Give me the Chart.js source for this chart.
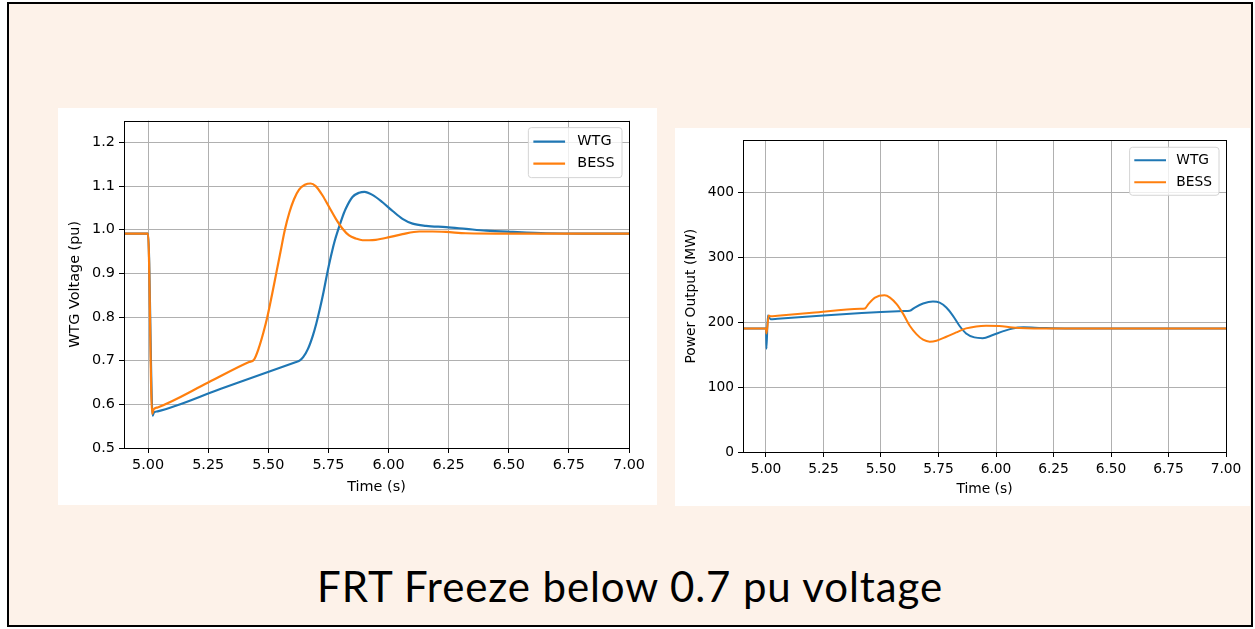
<!DOCTYPE html>
<html>
<head>
<meta charset="utf-8">
<title>FRT Freeze below 0.7 pu voltage</title>
<script src="https://cdn.jsdelivr.net/npm/chart.js@4.4.1/dist/chart.umd.min.js"></script>
<style>
  html, body { margin: 0; padding: 0; background: #fff; }
  body { width: 1255px; height: 629px; position: relative; overflow: hidden; }
  #slide {
    position: absolute; left: 7px; top: 2px; width: 1246px; height: 625px;
    box-sizing: border-box; border: 2px solid #000; background: #fdf2e9;
  }
  .panel { position: absolute; background: #fff; }
  .panel canvas { display: block; }
  #voltage-panel { left: 58px; top: 108px; width: 599px; height: 397px; }
  #power-panel { left: 675px; top: 128px; width: 575px; height: 378px; }
  #caption {
    position: absolute; left: 7px; width: 1246px; top: 565px;
    text-align: center; font: 42px/42px Lato, sans-serif; letter-spacing: 0.9px; color: #000;
  }
</style>
</head>
<body>
<div id="slide"></div>
<div class="panel" id="voltage-panel"><canvas id="voltage-chart" width="599" height="397"></canvas></div>
<div class="panel" id="power-panel"><canvas id="power-chart" width="575" height="378"></canvas></div>
<div id="caption">FRT Freeze below 0.7 pu voltage</div>
<script>
const timeTicks = [5.0, 5.25, 5.5, 5.75, 6.0, 6.25, 6.5, 6.75, 7.0];
const voltageTicks = [0.5, 0.6, 0.7, 0.8, 0.9, 1.0, 1.1, 1.2];
const powerTicks = [0, 100, 200, 300, 400];

// terminal voltage (pu)
const wtgVoltageTime = [4.9, 5.0, 5.019, 5.024, 5.04, 5.3, 5.61, 5.63, 5.645, 5.665, 5.685, 5.7,
  5.715, 5.73, 5.745, 5.76, 5.775, 5.79, 5.805, 5.822, 5.85, 5.878, 5.9, 5.933, 5.975, 6.017, 6.058,
  6.1, 6.156, 6.239, 6.322, 6.406, 6.517, 6.656, 6.8, 7.0];
const wtgVoltage = [0.991, 0.991, 0.574, 0.581, 0.584, 0.635, 0.696, 0.700, 0.708, 0.727, 0.757, 0.786,
  0.820, 0.858, 0.900, 0.938, 0.972, 0.999, 1.024, 1.048, 1.075, 1.085, 1.087, 1.080, 1.063, 1.043, 1.025,
  1.014, 1.009, 1.006, 1.002, 0.998, 0.995, 0.992, 0.991, 0.991];

const bessVoltageTime = [4.9, 5.0, 5.017, 5.024, 5.04, 5.25, 5.42, 5.44, 5.46, 5.48, 5.496, 5.515,
  5.533, 5.551, 5.569, 5.588, 5.607, 5.628, 5.652, 5.676, 5.697, 5.725, 5.753, 5.781, 5.808, 5.836,
  5.864, 5.892, 5.919, 5.947, 6.003, 6.058, 6.128, 6.183, 6.239, 6.322, 6.5, 7.0];
const bessVoltage = [0.991, 0.991, 0.578, 0.589, 0.593, 0.650, 0.697, 0.702, 0.728, 0.765, 0.800, 0.850,
  0.900, 0.950, 1.000, 1.040, 1.070, 1.092, 1.103, 1.106, 1.100, 1.079, 1.052, 1.025, 1.003, 0.987,
  0.980, 0.976, 0.976, 0.977, 0.983, 0.990, 0.996, 0.996, 0.995, 0.992, 0.991, 0.991];

// active power output (MW)
const wtgPowerTime = [4.9, 5.0, 5.002, 5.008, 5.02, 5.05, 5.25, 5.4, 5.5, 5.6, 5.625, 5.647, 5.683,
  5.726, 5.755, 5.784, 5.813, 5.841, 5.87, 5.906, 5.942, 5.986, 6.029, 6.072, 6.12, 6.2, 6.3, 7.0];
const wtgPower = [190, 190, 159, 210, 204.5, 205.3, 210.3, 213.6, 215.6, 217.0, 217.6, 222.5, 228.6,
  231.7, 230.1, 222.5, 209.7, 194.4, 182.6, 176.5, 175.3, 180.1, 185.7, 190.3, 192.0, 191.0, 190.2, 190];

const bessPowerTime = [4.9, 5.0, 5.002, 5.012, 5.02, 5.05, 5.2, 5.41, 5.43, 5.445, 5.474, 5.515, 5.539,
  5.568, 5.597, 5.625, 5.654, 5.683, 5.712, 5.741, 5.784, 5.827, 5.87, 5.914, 5.957, 6.014, 6.072,
  6.13, 6.2, 7.0];
const bessPower = [190, 190, 182.5, 210, 209, 209.9, 214.3, 220.4, 221, 227.6, 237.8, 241.3, 237.8,
  227.6, 212.3, 194.4, 181.6, 172.9, 169.9, 171.4, 177.5, 184.2, 190.3, 193.4, 194.4, 193.9, 191.8,
  190.6, 190.1, 190];

const fontFamily = '"DejaVu Sans", sans-serif';
const blue = '#1f77b4';
const orange = '#ff7f0e';

function toPoints(xs, ys) {
  return xs.map((x, i) => ({ x, y: ys[i] }));
}

// black box around the plotting area
const frame = {
  id: 'frame',
  afterDatasetsDraw(chart) {
    const { ctx, chartArea: a } = chart;
    ctx.save();
    ctx.strokeStyle = '#000';
    ctx.lineWidth = 1;
    ctx.strokeRect(Math.round(a.left) + 0.5, Math.round(a.top) + 0.5, Math.round(a.width), Math.round(a.height));
    ctx.restore();
  },
};

// legend drawn inside the upper right corner, with a rounded box
const boxLegend = {
  id: 'boxLegend',
  afterDraw(chart, args, opts) {
    const { ctx, chartArea } = chart;
    const items = chart.data.datasets;
    ctx.save();
    ctx.font = `${opts.size}px ${fontFamily}`;
    const textW = Math.max(...items.map((d) => ctx.measureText(d.label).width));
    const w = opts.textX + textW + opts.padRight;
    const h = opts.firstRow * 2 + opts.rowGap * (items.length - 1);
    const x = chartArea.right - opts.inset - w;
    const y = chartArea.top + opts.inset;
    ctx.beginPath();
    ctx.roundRect(x, y, w, h, 3);
    ctx.fillStyle = 'rgba(255, 255, 255, 0.8)';
    ctx.fill();
    ctx.strokeStyle = '#d4d4d4';
    ctx.lineWidth = 1;
    ctx.stroke();
    items.forEach((d, i) => {
      const ry = y + opts.firstRow + i * opts.rowGap;
      ctx.beginPath();
      ctx.moveTo(x + opts.handleX, ry);
      ctx.lineTo(x + opts.handleX + opts.handleLen, ry);
      ctx.strokeStyle = d.borderColor;
      ctx.lineWidth = d.borderWidth;
      ctx.stroke();
      ctx.fillStyle = '#000';
      ctx.textBaseline = 'middle';
      ctx.fillText(d.label, x + opts.textX, ry);
    });
    ctx.restore();
  },
};

function axisOptions({ min, max, ticks, decimals, title, size, titlePadding, fit, horizontal }) {
  return {
    type: 'linear',
    min,
    max,
    afterBuildTicks: (scale) => {
      scale.ticks = ticks.map((value) => ({ value }));
    },
    afterFit: (scale) => {
      if (horizontal) scale.height = fit;
      else scale.width = fit;
    },
    grid: { color: '#b0b0b0', lineWidth: 1, tickColor: '#000', tickLength: 5, tickWidth: 1 },
    border: { display: false },
    ticks: {
      color: '#000',
      font: { family: fontFamily, size },
      padding: 4,
      maxRotation: 0,
      autoSkip: false,
      callback: (value) => Number(value).toFixed(decimals),
    },
    title: {
      display: true,
      text: title,
      color: '#000',
      font: { family: fontFamily, size },
      padding: titlePadding,
    },
  };
}

function buildChart(canvasId, cfg) {
  return new Chart(document.getElementById(canvasId), {
    type: 'line',
    data: {
      datasets: [
        {
          label: 'WTG',
          data: toPoints(cfg.wtgTime, cfg.wtg),
          borderColor: blue,
          borderWidth: cfg.lineWidth,
          order: 1,
        },
        {
          label: 'BESS',
          data: toPoints(cfg.bessTime, cfg.bess),
          borderColor: orange,
          borderWidth: cfg.lineWidth,
          order: 0,
        },
      ],
    },
    options: {
      responsive: false,
      animation: false,
      layout: { padding: cfg.padding },
      elements: {
        point: { radius: 0 },
        line: { cubicInterpolationMode: 'monotone', borderCapStyle: 'round', borderJoinStyle: 'round' },
      },
      scales: {
        x: axisOptions({
          min: 4.9, max: 7.0, ticks: timeTicks, decimals: 2, title: 'Time (s)',
          size: cfg.fontSize, titlePadding: { top: 0, bottom: cfg.xTitlePad }, fit: cfg.xFit, horizontal: true,
        }),
        y: axisOptions({
          min: cfg.yMin, max: cfg.yMax, ticks: cfg.yTicks, decimals: cfg.yDecimals, title: cfg.yTitle,
          size: cfg.fontSize, titlePadding: { top: cfg.yTitlePad, bottom: 0 }, fit: cfg.yFit, horizontal: false,
        }),
      },
      plugins: {
        legend: { display: false },
        tooltip: { enabled: false },
        boxLegend: cfg.legend,
      },
    },
    plugins: [frame, boxLegend],
  });
}

buildChart('voltage-chart', {
  wtgTime: wtgVoltageTime, wtg: wtgVoltage,
  bessTime: bessVoltageTime, bess: bessVoltage,
  lineWidth: 2.2,
  fontSize: 14.4,
  padding: { top: 12, right: 28, bottom: 0, left: 0 },
  xFit: 57, yFit: 66,
  xTitlePad: 9.4, yTitlePad: 8.4,
  yMin: 0.5, yMax: 1.25, yTicks: voltageTicks, yDecimals: 1,
  yTitle: 'WTG Voltage (pu)',
  legend: { size: 14.4, inset: 7, handleX: 5, handleLen: 31.7, textX: 49, padRight: 7.4, firstRow: 14, rowGap: 22 },
});

buildChart('power-chart', {
  wtgTime: wtgPowerTime, wtg: wtgPower,
  bessTime: bessPowerTime, bess: bessPower,
  lineWidth: 2.0,
  fontSize: 13.8,
  padding: { top: 10, right: 24, bottom: 0, left: 0 },
  xFit: 54, yFit: 68,
  xTitlePad: 8.7, yTitlePad: 7.7,
  yMin: 0, yMax: 480, yTicks: powerTicks, yDecimals: 0,
  yTitle: 'Power Output (MW)',
  legend: { size: 13.8, inset: 7, handleX: 4.7, handleLen: 31.7, textX: 46.7, padRight: 7, firstRow: 13, rowGap: 22 },
});
</script>
</body>
</html>
